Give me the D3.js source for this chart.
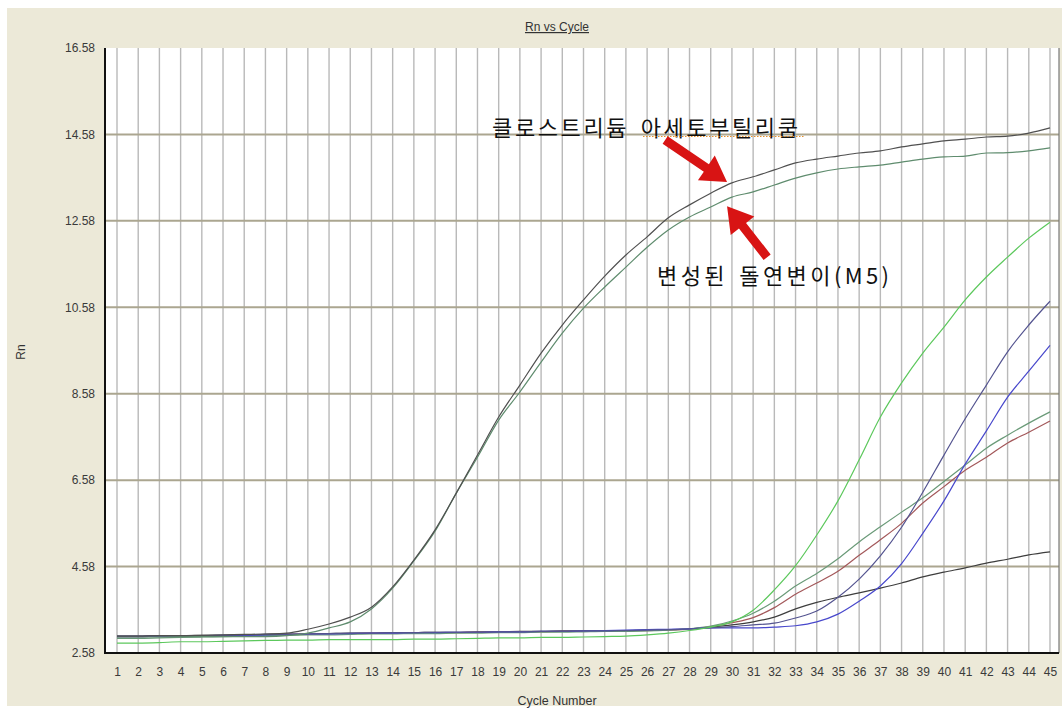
<!DOCTYPE html>
<html>
<head>
<meta charset="utf-8">
<script src="https://cdn.jsdelivr.net/npm/d3@7"></script>
<style>
  html, body { margin: 0; padding: 0; background: #ffffff; }
  svg { display: block; }
</style>
</head>
<body>
<svg id="chart" width="1062" height="709"></svg>
<script>
// Amplification plot: normalized reporter (Rn) per PCR cycle
const cycles = d3.range(1, 46);
const yTickValues = [2.58, 4.58, 6.58, 8.58, 10.58, 12.58, 14.58, 16.58];

const acetobutylicum = [2.97, 2.97, 2.98, 2.98, 2.99, 3.00, 3.01, 3.02, 3.04, 3.13,
  3.25, 3.41, 3.64, 4.11, 4.73, 5.43, 6.28, 7.16, 8.04, 8.78,
  9.52, 10.17, 10.75, 11.30, 11.79, 12.21, 12.65, 12.95, 13.22, 13.46,
  13.60, 13.76, 13.92, 14.01, 14.08, 14.15, 14.20, 14.29, 14.36, 14.43,
  14.47, 14.52, 14.54, 14.61, 14.73];

const mutantM5 = [2.95, 2.95, 2.95, 2.96, 2.96, 2.96, 2.96, 2.96, 2.98, 3.04,
  3.16, 3.30, 3.60, 4.08, 4.71, 5.40, 6.28, 7.11, 7.97, 8.62,
  9.31, 9.98, 10.56, 11.05, 11.51, 11.97, 12.37, 12.67, 12.90, 13.13,
  13.25, 13.41, 13.57, 13.69, 13.78, 13.83, 13.87, 13.94, 14.01, 14.06,
  14.08, 14.15, 14.16, 14.20, 14.27];

const sampleBrightGreen = [2.81, 2.81, 2.82, 2.84, 2.84, 2.85, 2.86, 2.87, 2.88, 2.88,
  2.89, 2.89, 2.89, 2.89, 2.90, 2.90, 2.91, 2.92, 2.93, 2.93,
  2.94, 2.94, 2.95, 2.96, 2.97, 3.00, 3.04, 3.10, 3.18, 3.30,
  3.57, 4.04, 4.60, 5.31, 6.10, 7.05, 8.04, 8.83, 9.52, 10.12,
  10.75, 11.28, 11.74, 12.18, 12.55];

const sampleGrayGreen = [2.92, 2.92, 2.93, 2.94, 2.95, 2.96, 2.97, 2.98, 2.99, 3.00,
  3.00, 3.01, 3.02, 3.02, 3.03, 3.03, 3.04, 3.04, 3.05, 3.05,
  3.06, 3.06, 3.07, 3.08, 3.08, 3.09, 3.11, 3.14, 3.20, 3.32,
  3.50, 3.78, 4.13, 4.42, 4.76, 5.15, 5.50, 5.84, 6.17, 6.55,
  6.93, 7.32, 7.62, 7.90, 8.16];

const sampleBrown = [2.96, 2.96, 2.97, 2.97, 2.98, 2.98, 2.99, 3.00, 3.01, 3.02,
  3.03, 3.03, 3.04, 3.04, 3.05, 3.05, 3.05, 3.06, 3.06, 3.07,
  3.07, 3.08, 3.08, 3.09, 3.09, 3.10, 3.11, 3.13, 3.19, 3.28,
  3.40, 3.63, 3.94, 4.20, 4.47, 4.84, 5.20, 5.58, 6.05, 6.43,
  6.81, 7.11, 7.44, 7.69, 7.95];

const sampleSlate = [2.97, 2.97, 2.97, 2.98, 2.98, 2.99, 3.00, 3.01, 3.01, 3.02,
  3.03, 3.04, 3.04, 3.05, 3.05, 3.06, 3.06, 3.06, 3.07, 3.07,
  3.08, 3.08, 3.09, 3.09, 3.10, 3.11, 3.12, 3.14, 3.16, 3.19,
  3.23, 3.27, 3.39, 3.55, 3.87, 4.29, 4.83, 5.49, 6.30, 7.16,
  8.00, 8.78, 9.55, 10.17, 10.72];

const sampleBlue = [2.96, 2.96, 2.97, 2.97, 2.98, 2.99, 2.99, 3.00, 3.01, 3.02,
  3.02, 3.03, 3.04, 3.04, 3.05, 3.05, 3.06, 3.06, 3.07, 3.07,
  3.08, 3.08, 3.09, 3.10, 3.11, 3.12, 3.13, 3.14, 3.16, 3.16,
  3.16, 3.18, 3.21, 3.30, 3.48, 3.78, 4.13, 4.65, 5.35, 6.10,
  6.95, 7.72, 8.50, 9.10, 9.70];

const sampleDarkGray = [2.97, 2.97, 2.98, 2.98, 2.99, 2.99, 3.00, 3.01, 3.02, 3.02,
  3.03, 3.04, 3.04, 3.05, 3.05, 3.06, 3.06, 3.07, 3.07, 3.08,
  3.08, 3.09, 3.09, 3.10, 3.10, 3.11, 3.12, 3.14, 3.18, 3.23,
  3.30, 3.41, 3.60, 3.75, 3.87, 3.97, 4.08, 4.20, 4.34, 4.45,
  4.55, 4.66, 4.75, 4.85, 4.92];

// Drawing order: later entries are painted on top
const series = [
  { name: "dark gray", values: sampleDarkGray, color: "#3e3e3e" },
  { name: "brown", values: sampleBrown, color: "#a3585a" },
  { name: "gray green", values: sampleGrayGreen, color: "#6a9a78" },
  { name: "blue", values: sampleBlue, color: "#4848cc" },
  { name: "slate", values: sampleSlate, color: "#545490" },
  { name: "bright green", values: sampleBrightGreen, color: "#5cc85c" },
  { name: "M5", values: mutantM5, color: "#5f8c6e" },
  { name: "C. acetobutylicum", values: acetobutylicum, color: "#505050" }
];

const labelWildType = "클로스트리듐 아세토부틸리쿰";
const labelMutant = "변성된 돌연변이(M5)";

const svg = d3.select("#chart");
const W = 1062, H = 709;
const plot = { left: 105, right: 1059, top: 48, bottom: 653 };

const x = d3.scaleLinear().domain([1, 45]).range([117, 1050]);
const y = d3.scaleLinear().domain([2.58, 16.58]).range([plot.bottom, plot.top]);

// window panel
svg.append("rect").attr("x", 0).attr("y", 0).attr("width", W).attr("height", H).attr("fill", "#ffffff");
svg.append("rect").attr("x", 7).attr("y", 8).attr("width", W - 7).attr("height", 698).attr("fill", "#ece9d8");

// plot area
svg.append("rect")
  .attr("x", plot.left).attr("y", plot.top)
  .attr("width", plot.right - plot.left).attr("height", plot.bottom - plot.top)
  .attr("fill", "#ffffff");

// vertical grid at each cycle
svg.append("g").selectAll("line").data(cycles).join("line")
  .attr("x1", d => x(d)).attr("x2", d => x(d))
  .attr("y1", plot.top).attr("y2", plot.bottom)
  .attr("stroke", "#b9b9b9").attr("stroke-width", 1.4);

// horizontal grid at inner y ticks
svg.append("g").selectAll("line").data(yTickValues.slice(1, -1)).join("line")
  .attr("x1", plot.left).attr("x2", plot.right)
  .attr("y1", d => y(d)).attr("y2", d => y(d))
  .attr("stroke", "#aba690").attr("stroke-width", 2);

// amplification curves
const line = d3.line()
  .x((d, i) => x(cycles[i]))
  .y(d => y(d))
  .curve(d3.curveMonotoneX);
svg.append("g").selectAll("path").data(series).join("path")
  .attr("d", d => line(d.values))
  .attr("fill", "none")
  .attr("stroke", d => d.color)
  .attr("stroke-width", 1.2)
  .attr("stroke-linejoin", "round");

// frame
svg.append("line").attr("x1", plot.right).attr("x2", plot.right)
  .attr("y1", plot.top).attr("y2", plot.bottom)
  .attr("stroke", "#777").attr("stroke-width", 1.2);
svg.append("line").attr("x1", plot.left).attr("x2", plot.left)
  .attr("y1", plot.top).attr("y2", plot.bottom + 1)
  .attr("stroke", "#111").attr("stroke-width", 2);
svg.append("line").attr("x1", plot.left - 1).attr("x2", plot.right)
  .attr("y1", plot.bottom).attr("y2", plot.bottom)
  .attr("stroke", "#111").attr("stroke-width", 2);

const tickFont = "'Liberation Sans', Arial, sans-serif";

// y axis labels
const yAxis = svg.append("g").attr("transform", `translate(${plot.left},0)`)
  .call(d3.axisLeft(y).tickValues(yTickValues).tickFormat(d3.format(".2f")).tickSize(0).tickPadding(10));
yAxis.select(".domain").remove();
yAxis.selectAll("text").attr("font-family", tickFont).attr("font-size", 12).attr("fill", "#3a3a3a");

// x axis labels
const xAxis = svg.append("g").attr("transform", `translate(0,${plot.bottom})`)
  .call(d3.axisBottom(x).tickValues(cycles).tickFormat(d3.format("d")).tickSize(0).tickPadding(14));
xAxis.select(".domain").remove();
xAxis.selectAll("text").attr("font-family", tickFont).attr("font-size", 12).attr("fill", "#3a3a3a");

// titles
svg.append("text").attr("x", 557).attr("y", 31)
  .attr("text-anchor", "middle").attr("font-family", tickFont).attr("font-size", 12)
  .attr("fill", "#333").attr("text-decoration", "underline").text("Rn vs Cycle");
svg.append("text").attr("x", 557).attr("y", 705)
  .attr("text-anchor", "middle").attr("font-family", tickFont).attr("font-size", 12.5)
  .attr("fill", "#333").text("Cycle Number");
svg.append("text").attr("transform", "translate(25,352) rotate(-90)")
  .attr("text-anchor", "middle").attr("font-family", tickFont).attr("font-size", 12)
  .attr("fill", "#333").text("Rn");

// annotations
const korFont = "'Noto Sans CJK KR', 'Noto Sans CJK SC', sans-serif";
const note1 = { cycle: 18.69, value: 14.775 };
const note2 = { cycle: 26.47, value: 11.35 };

svg.append("text")
  .attr("x", x(note1.cycle)).attr("y", y(note1.value))
  .attr("dominant-baseline", "central")
  .attr("font-family", korFont).attr("font-size", 22).attr("fill", "#111")
  .attr("letter-spacing", 2.6).attr("word-spacing", 4)
  .text(labelWildType);

svg.append("line")
  .attr("x1", 643).attr("x2", 804)
  .attr("y1", y(note1.value) + 10.5).attr("y2", y(note1.value) + 10.5)
  .attr("stroke", "#e8902a").attr("stroke-width", 1).attr("stroke-dasharray", "1.5,1.5");

svg.append("text")
  .attr("x", x(note2.cycle)).attr("y", y(note2.value))
  .attr("dominant-baseline", "central")
  .attr("font-family", korFont).attr("font-size", 22).attr("fill", "#111")
  .attr("letter-spacing", 3.4).attr("word-spacing", 3)
  .text(labelMutant);

// red arrows pointing at the two curves
const arrows = [
  { from: [26.85, 14.45], to: [29.77, 13.48] },
  { from: [31.66, 11.74], to: [29.77, 12.92] }
];
function arrowPath(a) {
  const x0 = x(a.from[0]), y0 = y(a.from[1]);
  const x1 = x(a.to[0]), y1 = y(a.to[1]);
  const dx = x1 - x0, dy = y1 - y0, len = Math.hypot(dx, dy);
  const ux = dx / len, uy = dy / len, nx = -uy, ny = ux;
  const shaft = 4.5, head = 15, headLen = 25;
  const bx = x1 - ux * headLen, by = y1 - uy * headLen;
  const pts = [
    [x0 + nx * shaft, y0 + ny * shaft],
    [bx + nx * shaft, by + ny * shaft],
    [bx + nx * head, by + ny * head],
    [x1, y1],
    [bx - nx * head, by - ny * head],
    [bx - nx * shaft, by - ny * shaft],
    [x0 - nx * shaft, y0 - ny * shaft]
  ];
  return "M" + pts.map(p => p.join(",")).join("L") + "Z";
}
svg.append("g").selectAll("path").data(arrows).join("path")
  .attr("d", arrowPath)
  .attr("fill", "#d81414");
</script>
</body>
</html>
